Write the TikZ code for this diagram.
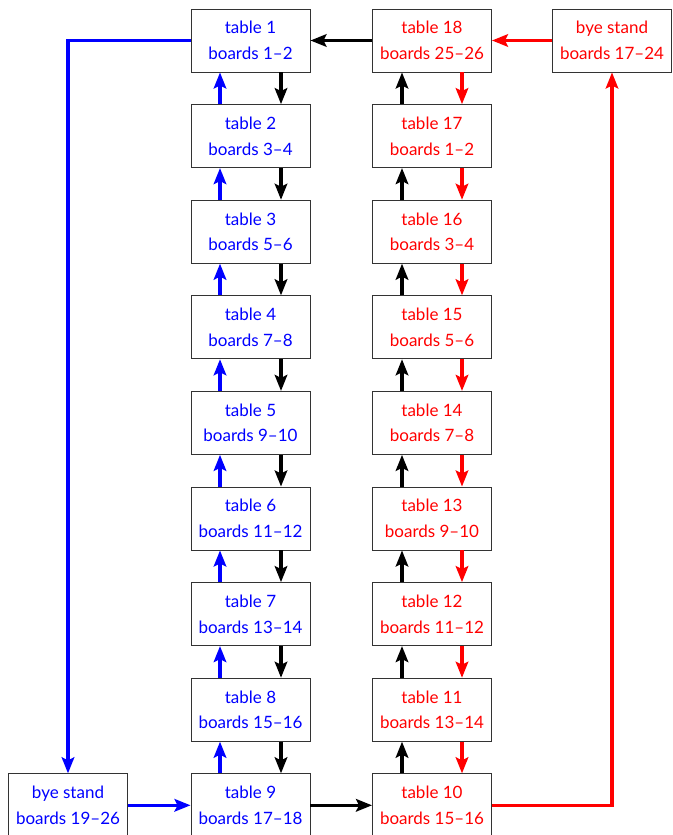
\documentclass[tikz,border=0pt]{standalone}
\usepackage{fontspec}
\setmainfont{Lato}
\usetikzlibrary{arrows.meta}
\begin{document}
\begin{tikzpicture}[x=1pt,y=-1pt,
  tbox/.style={draw=black!80,line width=0.9pt,fill=white,minimum width=119pt,minimum height=63pt,inner sep=0pt,align=center,font=\fontsize{17}{25.5}\selectfont},
  bl/.style={tbox,text=blue},
  rd/.style={tbox,text=red},
  conn/.style={line width=3.4pt,-{Stealth[length=16pt,width=12.5pt,inset=3pt]}},
  ]
\useasboundingbox (0,0) rectangle (672,835);
\def\pitch{95.6}
% left column (blue)
\foreach \k/\b in {1/1--2,2/3--4,3/5--6,4/7--8,5/9--10,6/11--12,7/13--14,8/15--16,9/17--18}{
  \node[bl] (L\k) at (250.5,{40.5+(\k-1)*\pitch}) {table \k\\boards \b};
}
% right column (red)
\foreach \k/\t/\b in {1/18/25--26,2/17/1--2,3/16/3--4,4/15/5--6,5/14/7--8,6/13/9--10,7/12/11--12,8/11/13--14,9/10/15--16}{
  \node[rd] (R\k) at (432,{40.5+(\k-1)*\pitch}) {table \t\\boards \b};
}
\node[rd] (byeR) at (612,40.5) {bye stand\\boards 17--24};
\node[bl] (byeL) at (68,{40.5+8*\pitch}) {bye stand\\boards 19--26};
% vertical arrows
\foreach \k [evaluate=\k as \n using int(\k+1)] in {1,...,8}{
  \draw[conn,blue] ([xshift=-30.5pt]L\n.north) -- ([xshift=-30.5pt]L\k.south);
  \draw[conn,black] ([xshift=30.5pt]L\k.south) -- ([xshift=30.5pt]L\n.north);
  \draw[conn,black] ([xshift=-30pt]R\n.north) -- ([xshift=-30pt]R\k.south);
  \draw[conn,red] ([xshift=30pt]R\k.south) -- ([xshift=30pt]R\n.north);
}
% horizontal connections
\draw[conn,black] (R1.west) -- (L1.east);
\draw[conn,red] (byeR.west) -- (R1.east);
\draw[conn,black] (L9.east) -- (R9.west);
\draw[conn,blue] (byeL.east) -- (L9.west);
\draw[conn,red] (R9.east) -| (byeR.south);
\draw[conn,blue] (L1.west) -| (byeL.north);
\end{tikzpicture}
\end{document}
